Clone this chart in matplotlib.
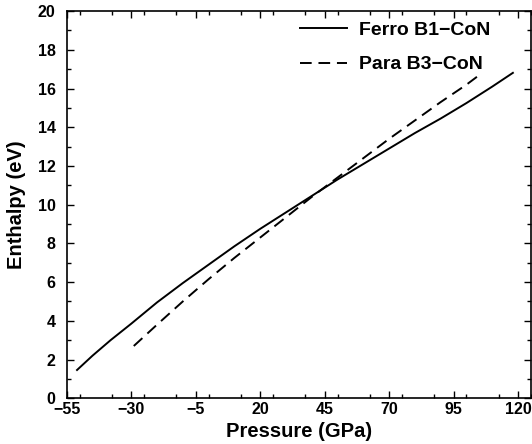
import matplotlib
matplotlib.use("Agg")
import matplotlib.pyplot as plt
from matplotlib.ticker import MultipleLocator

plt.rcParams['font.family'] = ['Liberation Sans', 'DejaVu Sans']
plt.rcParams['font.weight'] = 'bold'

ferro_p = [-51, -45, -38, -30, -20, -10, 0, 10, 20, 30, 40, 50, 60, 70, 80, 90, 100, 110, 118]
ferro_h = [1.46, 2.2, 3.0, 3.85, 4.95, 5.95, 6.9, 7.85, 8.75, 9.6, 10.45, 11.3, 12.1, 12.9,
           13.7, 14.45, 15.25, 16.1, 16.81]
para_p = [-29, -20, -10, 0, 10, 20, 30, 40, 50, 60, 70, 80, 90, 100, 106]
para_h = [2.7, 3.8, 5.0, 6.15, 7.25, 8.3, 9.35, 10.4, 11.4, 12.4, 13.4, 14.35, 15.3, 16.2, 16.8]
xticks = [-55, -30, -5, 20, 45, 70, 95, 120]
yticks = [0, 2, 4, 6, 8, 10, 12, 14, 16, 18, 20]

fig = plt.figure(figsize=(5.32, 4.44), dpi=100)
ax = fig.add_axes([0.1254, 0.103, 0.8726, 0.872])
ax.plot(ferro_p, ferro_h, color='black', lw=1.4, label='Ferro B1\u2212CoN')
ax.plot(para_p, para_h, color='black', lw=1.4, dashes=(6, 3.5), label='Para B3\u2212CoN')

ax.set_xlim(-55, 125)
ax.set_ylim(0, 20)
ax.set_xticks(xticks)
ax.set_yticks(yticks)
ax.xaxis.set_minor_locator(MultipleLocator(12.5))
ax.yaxis.set_minor_locator(MultipleLocator(1))
ax.tick_params(which='both', direction='in', top=True, right=True, width=1)
ax.tick_params(which='major', length=5, labelsize=11.5, pad=3)
ax.tick_params(axis='y', which='major', pad=8)
ax.tick_params(which='minor', length=3)
for lab in ax.get_xticklabels() + ax.get_yticklabels():
    lab.set_fontweight('bold')
for s in ax.spines.values():
    s.set_linewidth(1.2)

ax.set_xlabel('Pressure (GPa)', fontsize=14.5, fontweight='bold', labelpad=3)
ax.set_ylabel('Enthalpy (eV)', fontsize=14.5, fontweight='bold', labelpad=8)

leg = ax.legend(loc='upper left', bbox_to_anchor=(0.465, 1.018), frameon=False,
                handlelength=2.4, handletextpad=0.64, labelspacing=0.85,
                prop={'weight': 'bold', 'size': 14})

fig.savefig('out.png', dpi=100)
